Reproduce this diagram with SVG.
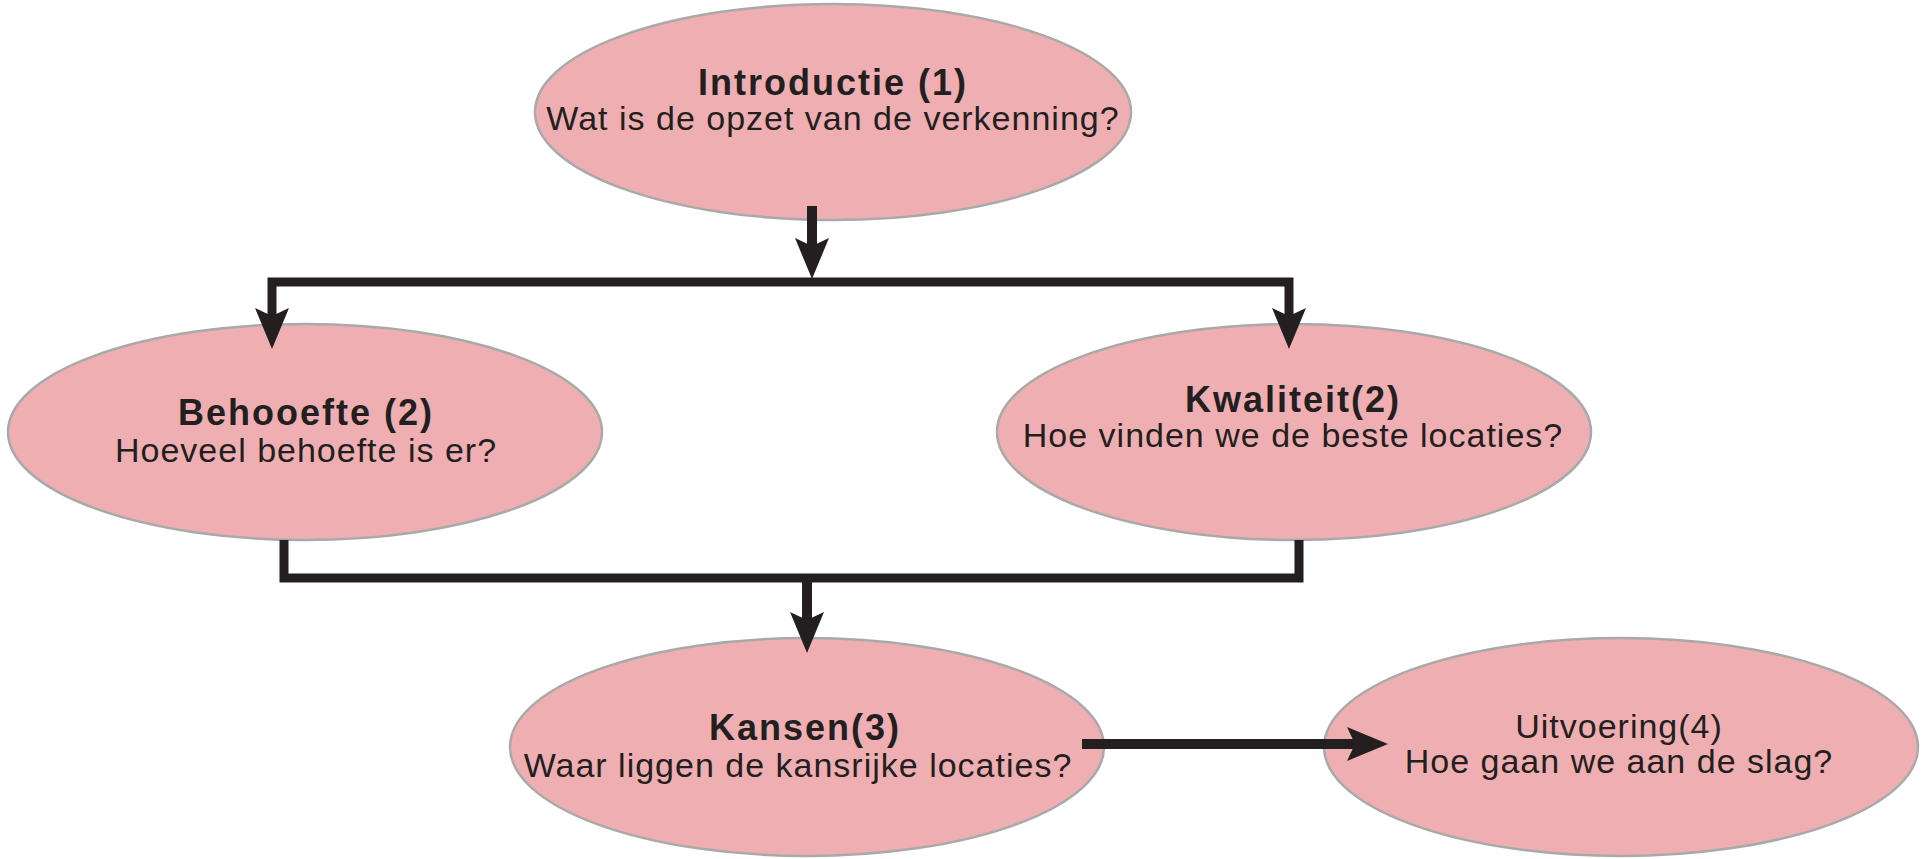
<svg xmlns="http://www.w3.org/2000/svg" width="1921" height="859" viewBox="0 0 1921 859">
<style>
.node ellipse{fill:#EFAFB2;stroke:#A9A9A9;stroke-width:2.5}
.node text{font-family:"Liberation Sans",Arial,sans-serif;font-size:34px;fill:#231F20;text-anchor:middle;letter-spacing:1px}
.node .t{font-weight:bold;font-size:36px;letter-spacing:2px}
.conn path{fill:none;stroke:#231F20;stroke-width:9;stroke-linejoin:miter}
</style>
<defs>
<marker id="ah" markerUnits="userSpaceOnUse" orient="auto" overflow="visible" markerWidth="1" markerHeight="1" refX="0" refY="0">
<path d="M-8,-17 L33,0 L-8,17 L0,0 Z" fill="#231F20"/>
</marker>
</defs>
<rect width="1921" height="859" fill="#FFFFFF"/>
<g id="introductie" class="node">
<ellipse cx="833" cy="112" rx="298" ry="108"/>
<text class="t" x="833" y="95">Introductie (1)</text>
<text x="833" y="130">Wat is de opzet van de verkenning?</text>
</g>
<g id="behoeefte" class="node">
<ellipse cx="305" cy="432" rx="297" ry="108"/>
<text class="t" x="306" y="425">Behooefte (2)</text>
<text x="306" y="462">Hoeveel behoefte is er?</text>
</g>
<g id="kwaliteit" class="node">
<ellipse cx="1294" cy="432" rx="297" ry="108"/>
<text class="t" x="1293" y="412">Kwaliteit(2)</text>
<text x="1293" y="447">Hoe vinden we de beste locaties?</text>
</g>
<g id="kansen" class="node">
<ellipse cx="807" cy="747" rx="297" ry="109"/>
<text class="t" x="805" y="740">Kansen(3)</text>
<text x="798" y="777">Waar liggen de kansrijke locaties?</text>
</g>
<g id="uitvoering" class="node">
<ellipse cx="1621" cy="747" rx="297" ry="109"/>
<text x="1619" y="738">Uitvoering(4)</text>
<text x="1619" y="773">Hoe gaan we aan de slag?</text>
</g>
<g class="conn">
<path d="M812,206 V246" marker-end="url(#ah)" style="stroke-width:10"/>
<path d="M812,282 H272 V316" marker-end="url(#ah)"/>
<path d="M812,282 H1289 V316" marker-end="url(#ah)"/>
<path d="M284,540 V578 H1299 V540"/>
<path d="M807,578 V620" marker-end="url(#ah)" style="stroke-width:10"/>
<path d="M1082,744 H1355" marker-end="url(#ah)" style="stroke-width:10"/>
</g>
</svg>
